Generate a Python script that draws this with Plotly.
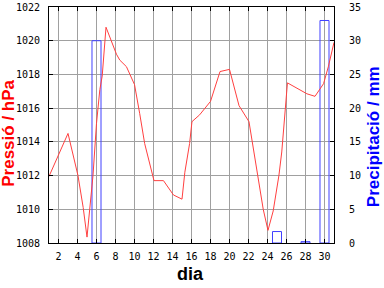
import plotly.graph_objects as go

# Pressure series (day of month, hPa)
p_days = [1, 3, 4.05, 4.6, 5.0, 5.3, 5.63, 6.0, 6.35, 6.6, 7.0, 8.1, 8.45, 9.15, 9.5,
          10.0, 10.55, 11.07, 12.05, 13.05, 14.1, 15.0, 15.3, 15.8, 16.05, 16.85, 18.0,
          18.27, 19.0, 20.0, 21.0, 22.05, 22.6, 23.1, 23.55, 24.05, 24.6, 25.2, 25.5,
          26.1, 27.0, 28.15, 29.0, 29.5, 29.9, 30.4, 30.9, 31]
pressure = [1011.95, 1014.5, 1012.0, 1010.1, 1008.35, 1009.9, 1012.0, 1015.1, 1017.1, 1017.9,
            1020.8, 1019.2, 1018.85, 1018.46, 1018.0, 1017.4, 1015.67, 1013.9, 1011.7, 1011.7,
            1010.85, 1010.6, 1012.2, 1013.9, 1015.2, 1015.6, 1016.4, 1016.9, 1018.17, 1018.3,
            1016.15, 1015.2, 1013.35, 1011.45, 1010.0, 1008.75, 1009.9, 1012.0, 1013.4,
            1017.5, 1017.2, 1016.85, 1016.7, 1017.1, 1017.45, 1018.45, 1019.75, 1019.9]

# Precipitation (day, mm)
rain_days = [6, 25, 28, 30]
rain_mm = [30, 1.7, 0.2, 33]

x_ticks = list(range(2, 31, 2))

fig = go.Figure()
fig.add_trace(go.Bar(x=rain_days, y=rain_mm, width=0.95,
                     marker=dict(color='rgba(0,0,0,0)', line=dict(color='#4040ff', width=1)),
                     yaxis='y'))
fig.add_trace(go.Scatter(x=p_days, y=pressure, mode='lines',
                         line=dict(color='#ff4040', width=1), yaxis='y2'))

tickfont = dict(family='DejaVu Sans Mono', size=10, color='black')
grid = '#a0a0a0'

fig.update_layout(
    width=384, height=288,
    margin=dict(l=49, r=50, t=1, b=45),
    paper_bgcolor='white', plot_bgcolor='white',
    showlegend=False,
    xaxis=dict(range=[1, 31], tickvals=x_ticks, ticks='inside', ticklen=4,
               tickcolor='black', showgrid=True, gridcolor=grid, gridwidth=1,
               showline=True, linecolor='black', linewidth=1, mirror='ticks',
               zeroline=False, tickfont=tickfont, ticklabelstandoff=4),
    yaxis=dict(side='right', range=[0, 35], dtick=5, ticks='inside', ticklen=4,
               tickcolor='black', showgrid=True, gridcolor=grid, gridwidth=1,
               showline=True, linecolor='black', linewidth=1, mirror=True,
               zeroline=False, tickfont=tickfont, ticklabelstandoff=12,
               ticklabeloverflow='allow'),
    yaxis2=dict(side='left', overlaying='y', range=[1008, 1022], dtick=2,
                ticks='inside', ticklen=4, tickcolor='black', showgrid=False,
                showline=True, linecolor='black', linewidth=1, zeroline=False,
                tickfont=tickfont, ticklabelstandoff=6, ticklabeloverflow='allow'),
    annotations=[
        dict(text='<b>Pressió / hPa</b>', xref='paper', yref='paper',
             x=(8.5 - 49) / 285, y=(243 - 130) / 243, textangle=-90, showarrow=False,
             xanchor='center', yanchor='middle',
             font=dict(family='Liberation Sans', size=17, color='#ff0000')),
        dict(text='<b>Precipitació / mm</b>', xref='paper', yref='paper',
             x=(373 - 49) / 285, y=(243 - 134) / 243, textangle=-90, showarrow=False,
             xanchor='center', yanchor='middle',
             font=dict(family='Liberation Sans', size=17, color='#0000ff')),
        dict(text='<b>dia</b>', xref='paper', yref='paper',
             x=(190.5 - 49) / 285, y=(243 - 274.5) / 243, showarrow=False,
             xanchor='center', yanchor='middle',
             font=dict(family='Liberation Sans', size=18, color='black')),
    ],
)

fig.write_html('out.html')
